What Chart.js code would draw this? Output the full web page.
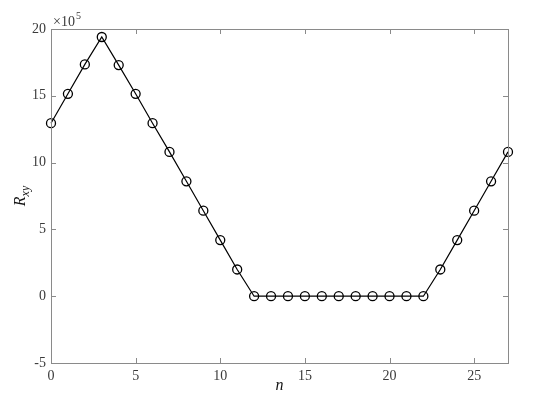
<!DOCTYPE html>
<html>
<head>
<meta charset="utf-8">
<script src="https://cdn.jsdelivr.net/npm/chart.js@4.4.0/dist/chart.umd.min.js"></script>
<style>
  html, body { margin: 0; padding: 0; background: #fff; }
  #wrap { width: 550px; height: 402px; }
</style>
</head>
<body>
<div id="wrap"><canvas id="rxy" width="550" height="402"></canvas></div>
<script>
// n axis and R_xy values (units of 1e5)
const nValues = [0, 1, 2, 3, 4, 5, 6, 7, 8, 9, 10, 11, 12, 13, 14, 15, 16, 17, 18, 19, 20, 21, 22, 23, 24, 25, 26, 27];
const rxyValues = [12.95, 15.15, 17.35, 19.4, 17.3, 15.15, 12.95, 10.8, 8.6, 6.4, 4.2, 2.0,
  0, 0, 0, 0, 0, 0, 0, 0, 0, 0, 0,
  2.0, 4.2, 6.4, 8.6, 10.8];
const xTicks = [0, 5, 10, 15, 20, 25];
const yTicks = [-5, 0, 5, 10, 15, 20];

const SERIF = '"Liberation Serif", "DejaVu Serif", serif';
const AXIS_GREY = '#8a8a8a';
const TEXT_GREY = '#3a3a3a';

// box, inward ticks, y label with subscript, exponent note
const matlabAxes = {
  id: 'matlabAxes',
  afterDraw(chart) {
    const { ctx, chartArea: a, scales } = chart;
    const x = scales.x, y = scales.y;
    ctx.save();
    ctx.strokeStyle = AXIS_GREY;
    ctx.lineWidth = 1;
    ctx.strokeRect(Math.round(a.left) + 0.5, Math.round(a.top) + 0.5,
      Math.round(a.right - a.left), Math.round(a.bottom - a.top));

    const tl = 5;
    ctx.beginPath();
    xTicks.forEach(v => {
      const px = Math.round(x.getPixelForValue(v)) + 0.5;
      ctx.moveTo(px, a.bottom); ctx.lineTo(px, a.bottom - tl);
      ctx.moveTo(px, a.top); ctx.lineTo(px, a.top + tl);
    });
    yTicks.forEach(v => {
      const py = Math.round(y.getPixelForValue(v)) + 0.5;
      ctx.moveTo(a.left, py); ctx.lineTo(a.left + tl, py);
      ctx.moveTo(a.right, py); ctx.lineTo(a.right - tl, py);
    });
    ctx.stroke();

    // exponent label
    ctx.fillStyle = TEXT_GREY;
    ctx.textBaseline = 'alphabetic';
    ctx.textAlign = 'left';
    ctx.font = '14px ' + SERIF;
    const ex = a.left + 2, ey = a.top - 3;
    ctx.fillText('\u00d710', ex, ey);
    const w = ctx.measureText('\u00d710').width;
    ctx.font = '10px ' + SERIF;
    ctx.fillText('5', ex + w + 1, ey - 7);

    // y axis title R_xy
    ctx.translate(25, (a.top + a.bottom) / 2);
    ctx.rotate(-Math.PI / 2);
    ctx.fillStyle = '#111';
    ctx.font = 'italic 16px ' + SERIF;
    const rw = ctx.measureText('R').width;
    ctx.font = 'italic 12px ' + SERIF;
    const sw = ctx.measureText('xy').width;
    const start = -(rw + sw) / 2;
    ctx.font = 'italic 16px ' + SERIF;
    ctx.fillText('R', start, 0);
    ctx.font = 'italic 12px ' + SERIF;
    ctx.fillText('xy', start + rw, 4);
    ctx.restore();
  }
};

new Chart(document.getElementById('rxy'), {
  type: 'line',
  data: {
    labels: nValues,
    datasets: [{
      data: nValues.map((n, i) => ({ x: n, y: rxyValues[i] })),
      borderColor: '#000',
      borderWidth: 1.2,
      backgroundColor: 'rgba(0,0,0,0)',
      pointRadius: 4.5,
      pointBorderWidth: 1.3,
      pointBorderColor: '#000',
      pointBackgroundColor: 'rgba(0,0,0,0)',
      tension: 0,
      clip: false
    }]
  },
  options: {
    responsive: false,
    animation: false,
    devicePixelRatio: 1,
    layout: { padding: { top: 29, right: 42, bottom: 0, left: 0 } },
    plugins: { legend: { display: false }, tooltip: { enabled: false } },
    scales: {
      x: {
        type: 'linear',
        min: 0,
        max: 27,
        afterBuildTicks: s => { s.ticks = xTicks.map(v => ({ value: v })); },
        afterFit: s => { s.height = 39; },
        grid: { display: false, drawTicks: false },
        border: { display: false },
        ticks: { color: TEXT_GREY, padding: 5, font: { family: SERIF, size: 14 } },
        title: {
          display: true, text: 'n', color: '#111',
          font: { family: SERIF, size: 16, style: 'italic' },
          padding: { top: 0, bottom: 7 }
        }
      },
      y: {
        min: -5,
        max: 20,
        afterBuildTicks: s => { s.ticks = yTicks.map(v => ({ value: v })); },
        afterFit: s => { s.width = 51; },
        grid: { display: false, drawTicks: false },
        border: { display: false },
        ticks: { color: TEXT_GREY, padding: 5, font: { family: SERIF, size: 14 } }
      }
    }
  },
  plugins: [matlabAxes]
});
</script>
</body>
</html>
